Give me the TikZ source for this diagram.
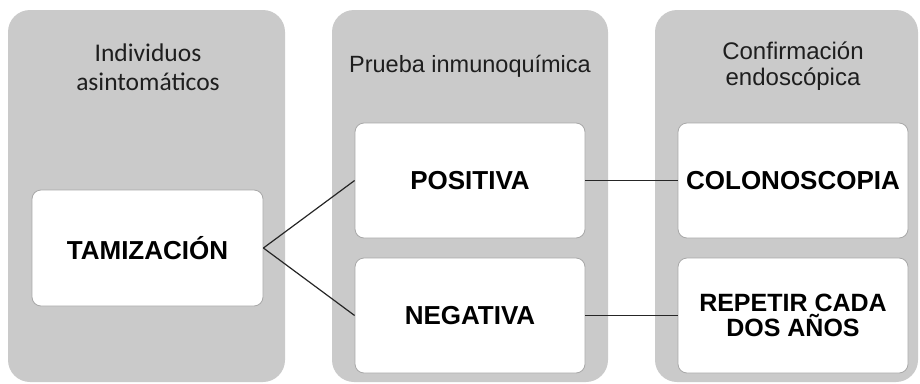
\documentclass[tikz,border=0pt]{standalone}
\usepackage{fontspec}
\setmainfont{Liberation Sans}
\newfontfamily\carlitofont{Carlito}
\usetikzlibrary{positioning}
\definecolor{PanelGray}{HTML}{CACACA}
\definecolor{BoxEdge}{HTML}{A8A8A8}
\definecolor{TitleInk}{HTML}{1E1E1E}

\tikzset{
  panel/.style={rectangle,rounded corners=22pt,fill=PanelGray,draw=none,inner sep=0pt},
  stagebox/.style={rectangle,rounded corners=9pt,fill=white,draw=BoxEdge,line width=.8pt,
    minimum width=230pt,minimum height=115pt,align=center,inner sep=2pt,
    font=\fontsize{26}{28}\selectfont\bfseries},
  paneltitle/.style={align=center,text=TitleInk,inner sep=0pt},
  link/.style={draw=black!85,line width=1.2pt}
}

\begin{document}
\begin{tikzpicture}[x=1pt,y=-1pt]
  \useasboundingbox (0,0) rectangle (920,383);
  % three grey columns
  \node[panel,minimum width=277pt,minimum height=372pt] (colA) at (146.5,196) {};
  \node[panel,minimum width=276pt,minimum height=372pt] (colB) at (470,196) {};
  \node[panel,minimum width=263pt,minimum height=372pt] (colC) at (786.5,196) {};

  % column headings
  \node[paneltitle,font=\carlitofont\fontsize{25.5}{29}\selectfont] (headA) at (148,67) {Individuos\\asintomáticos};
  \node[paneltitle,font=\fontsize{23.5}{27}\selectfont] (headB) at (470,66) {Prueba inmunoquímica};
  \node[paneltitle,font=\fontsize{24}{26}\selectfont] (headC) at (793,66) {Confirmación\\endoscópica};

  % white boxes
  \node[stagebox,minimum width=231pt,minimum height=116pt] (tam) at (147.5,248) {TAMIZACIÓN};
  \node[stagebox] (pos) at (470,180.5) {POSITIVA};
  \node[stagebox] (neg) at (470,315.5) {NEGATIVA};
  \node[stagebox] (colo) at (793,180.5) {COLONOSCOPIA};
  \node[stagebox,font=\fontsize{25}{25}\selectfont\bfseries] (rep) at (793,315.5) {REPETIR CADA\\DOS AÑOS};

  % connectors
  \draw[link] (tam.east) -- (pos.west);
  \draw[link] (tam.east) -- (neg.west);
  \draw[link] (pos.east) -- (colo.west);
  \draw[link] (neg.east) -- (rep.west);
\end{tikzpicture}
\end{document}
